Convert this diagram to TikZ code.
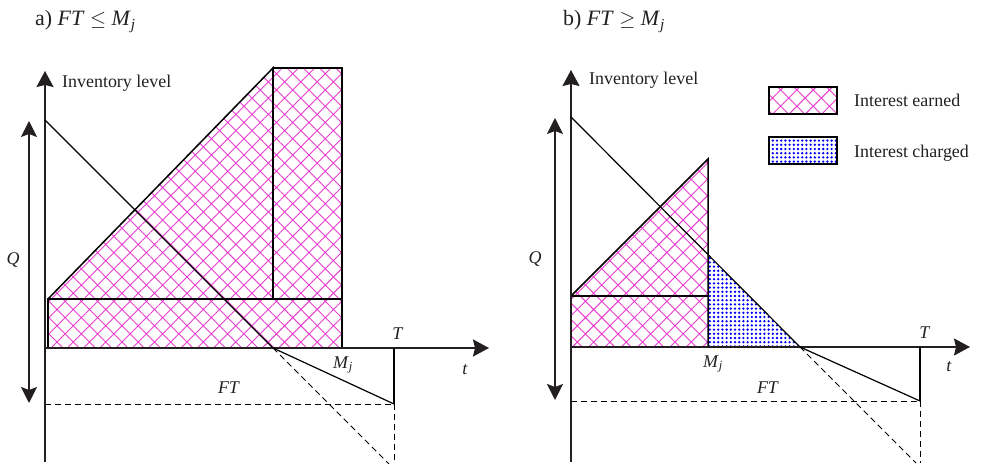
\documentclass[tikz,border=0pt]{standalone}
\usepackage{fontspec}
\setmainfont{Liberation Serif}
\usetikzlibrary{arrows.meta,patterns.meta}
\definecolor{txt}{RGB}{35,31,32}
\definecolor{pinkh}{RGB}{232,60,205}
\definecolor{blued}{RGB}{0,0,250}
\tikzset{
 axisline/.style={line width=1.6bp, draw=txt, -{Stealth[length=16bp,width=17bp,inset=2bp]}},
 qarrow/.style={line width=1.6bp, draw=txt, {Stealth[length=16bp,width=16bp,inset=3bp]}-{Stealth[length=16bp,width=16bp,inset=3bp]}},
 curveline/.style={line width=1.2bp},
 dashline/.style={line width=0.9bp, dash pattern=on 6bp off 4bp},
 earned/.style={pattern={Hatch[angle=45,distance=11.5bp,line width=0.9bp]}, pattern color=pinkh},
 charged/.style={pattern={Dots[distance=4.2bp,radius=1.3bp]}, pattern color=blued},
 outline/.style={line width=1.5bp, line join=miter},
 lbl/.style={font=\fontsize{18}{20}\selectfont, text=txt, inner sep=0pt},
 ttl/.style={font=\fontsize{22}{24}\selectfont, text=txt, inner sep=0pt},
}
\begin{document}
\begin{tikzpicture}[x=1bp,y=-1bp]
\useasboundingbox (0,0) rectangle (981,464);
% ---------------- panel a ----------------
\coordinate (aO) at (45,348);
\coordinate (aYb) at (45,462);
\coordinate (aYt) at (45,71);
\coordinate (aXt) at (489,348);
\coordinate (aQt) at (29,121);
\coordinate (aQb) at (29,403);
\coordinate (aD0) at (45,120);
\coordinate (aD1) at (273,348);
\coordinate (aD2) at (394,404);
\coordinate (aD3) at (389,464);
\coordinate (aT0) at (394,348);
\coordinate (aT1) at (394,464);
\coordinate (aF0) at (45,404);
\coordinate (aR1) at (48,299);
\coordinate (aR2) at (342,348);
\coordinate (aP) at (273,68);
\coordinate (aPb) at (273,299);
\coordinate (aR3) at (342,299);
\fill[earned] (aR1) rectangle (aR2);
\fill[earned] (aR1) -- (aP) -- (aPb) -- cycle;
\fill[earned] (aP) rectangle (aR3);
\draw[outline] (aR1) rectangle (aR2);
\draw[outline] (aR1) -- (aP) -- (aPb);
\draw[outline] (aP) rectangle (aR3);
\draw[axisline] (aYb) -- (aYt);
\draw[axisline] (aO) -- (aXt);
\draw[qarrow] (aQt) -- (aQb);
\draw[curveline] (aD0) -- (aD1) -- (aD2);
\draw[dashline] (aD1) -- (aD3);
\draw[curveline] (aT0) -- (aD2);
\draw[dashline] (aD2) -- (aT1);
\draw[dashline] (aF0) -- (aD2);
\node[ttl,anchor=base west] (atitle) at (35,26) {a) \textit{FT} $\leq$ \textit{M}\textsubscript{\textit{j}}};
\node[lbl,anchor=base west] (ainv) at (62,88) {Inventory level};
\node[lbl] (aQ) at (13,260) {\textit{Q}};
\node[lbl] (aT) at (398,334) {\textit{T}};
\node[lbl] (aM) at (343,365) {\textit{M}\textsubscript{\textit{j}}};
\node[lbl] (aFT) at (229,388) {\textit{FT}};
\node[lbl] (at) at (465,370) {\textit{t}};
% ---------------- panel b ----------------
\coordinate (bO) at (571,347);
\coordinate (bYb) at (571,462);
\coordinate (bYt) at (571,70);
\coordinate (bXt) at (970,347);
\coordinate (bQt) at (555,118);
\coordinate (bQb) at (555,400);
\coordinate (bD0) at (571,117);
\coordinate (bD1) at (800,347);
\coordinate (bD2) at (920,401);
\coordinate (bD3) at (916,463);
\coordinate (bT0) at (920,347);
\coordinate (bT1) at (920,463);
\coordinate (bF0) at (571,401);
\coordinate (bR1) at (571,296);
\coordinate (bR2) at (708,347);
\coordinate (bP) at (708,159);
\coordinate (bPb) at (708,296);
\coordinate (bC) at (708,254);
\fill[earned] (bR1) rectangle (bR2);
\fill[earned] (bR1) -- (bP) -- (bPb) -- cycle;
\fill[charged] (bC) -- (bD1) -- (bR2) -- cycle;
\draw[outline] (bR1) -- (bPb);
\draw[outline] (bR1) -- (bP) -- (bR2);
\draw[axisline] (bYb) -- (bYt);
\draw[axisline] (bO) -- (bXt);
\draw[qarrow] (bQt) -- (bQb);
\draw[curveline] (bD0) -- (bD1) -- (bD2);
\draw[dashline] (bD1) -- (bD3);
\draw[curveline] (bT0) -- (bD2);
\draw[dashline] (bD2) -- (bT1);
\draw[dashline] (bF0) -- (bD2);
\node[ttl,anchor=base west] (btitle) at (563,26) {b) \textit{FT} $\geq$ \textit{M}\textsubscript{\textit{j}}};
\node[lbl,anchor=base west] (binv) at (589,85) {Inventory level};
\node[lbl] (bQ) at (535,259) {\textit{Q}};
\node[lbl] (bT) at (925,333) {\textit{T}};
\node[lbl] (bM) at (713,364) {\textit{M}\textsubscript{\textit{j}}};
\node[lbl] (bFT) at (768,388) {\textit{FT}};
\node[lbl] (bt) at (949,367) {\textit{t}};
% legend
\coordinate (l1a) at (769,87);
\coordinate (l1b) at (837,114);
\coordinate (l2a) at (769,137);
\coordinate (l2b) at (837,164);
\fill[earned] (l1a) rectangle (l1b);
\draw[outline] (l1a) rectangle (l1b);
\fill[charged] (l2a) rectangle (l2b);
\draw[outline] (l2a) rectangle (l2b);
\node[lbl,anchor=west] (le) at (854,100) {Interest earned};
\node[lbl,anchor=west] (lc) at (854,153) {Interest charged};
\end{tikzpicture}
\end{document}
